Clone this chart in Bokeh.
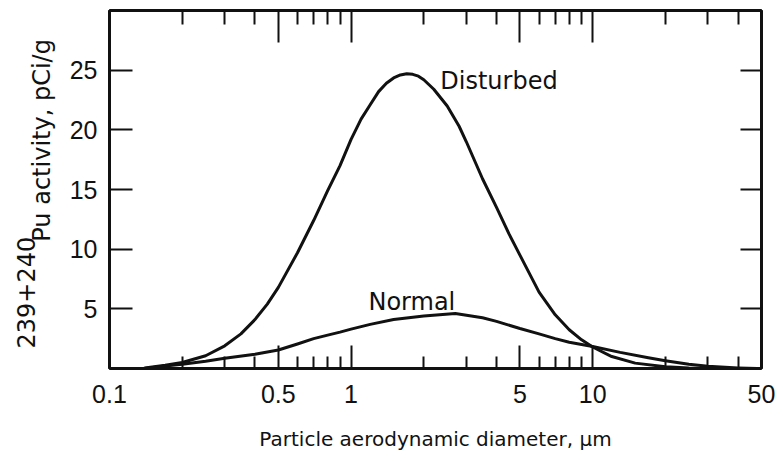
from bokeh.plotting import figure
from bokeh.models import (Range1d, LogAxis, LinearAxis, FixedTicker, LogScale,
                          CustomJSTickFormatter, Label, Title)
from bokeh.embed import file_html
from bokeh.resources import INLINE

# ---- data ----
diam_disturbed = [0.14, 0.17, 0.2, 0.25, 0.3, 0.35, 0.4, 0.45, 0.5, 0.6, 0.7, 0.8,
                  0.9, 1.0, 1.1, 1.2, 1.3, 1.4, 1.5, 1.6, 1.7, 1.8, 1.9, 2.0, 2.2,
                  2.5, 2.8, 3.0, 3.5, 4.0, 4.5, 5.0, 6.0, 7.0, 8.0, 9.0, 10, 12, 15,
                  20, 25, 30]
act_disturbed = [0.05, 0.27, 0.5, 1.07, 1.9, 2.9, 4.1, 5.4, 6.8, 9.7, 12.4, 14.9,
                 17.0, 19.2, 20.9, 22.1, 23.2, 23.9, 24.35, 24.6, 24.7, 24.65, 24.5,
                 24.2, 23.4, 22.0, 20.3, 19.0, 15.9, 13.5, 11.3, 9.5, 6.4, 4.5,
                 3.25, 2.4, 1.8, 1.0, 0.45, 0.14, 0.05, 0.02]

diam_normal = [0.14, 0.17, 0.2, 0.25, 0.3, 0.4, 0.5, 0.6, 0.7, 0.8, 0.9, 1.0, 1.2,
               1.5, 2.0, 2.7, 3.5, 4.0, 5.0, 6.0, 7.0, 8.0, 10, 13, 17, 20, 25, 30,
               40, 48]
act_normal = [0.0, 0.2, 0.35, 0.6, 0.85, 1.2, 1.55, 2.05, 2.5, 2.8, 3.05, 3.3, 3.7,
              4.1, 4.4, 4.6, 4.25, 3.95, 3.35, 2.9, 2.5, 2.2, 1.85, 1.35, 0.9,
              0.65, 0.35, 0.18, 0.05, 0.0]

x_major_ticks = [0.1, 0.5, 1, 5, 10, 50]
x_minor_ticks = [0.2, 0.3, 0.4, 0.6, 0.7, 0.8, 0.9, 2, 3, 4, 6, 7, 8, 9, 20, 30, 40]
y_ticks = [5, 10, 15, 20, 25]

x_title = "Particle aerodynamic diameter, \u03bcm"
y_title_sup = "239+240"
y_title_main = "Pu activity, pCi/g"
label_disturbed = "Disturbed"
label_normal = "Normal"

INK = "#111111"
TICK_FONT = "Liberation Sans"
TEXT_FONT = "DejaVu Sans"

# ---- figure ----
p = figure(width=775, height=461, x_axis_type=None, y_axis_type=None,
           x_range=Range1d(0.1, 50), y_range=Range1d(0, 30),
           output_backend="svg", toolbar_location=None,
           min_border_left=109, min_border_right=14,
           min_border_top=10, min_border_bottom=93)
p.x_scale = LogScale()
p.grid.visible = False
p.outline_line_color = INK
p.outline_line_width = 2.5

fmt = CustomJSTickFormatter(code="return tick.toString()")


def x_ticker():
    return FixedTicker(ticks=x_major_ticks, minor_ticks=x_minor_ticks)


def style_ticks(ax, major_in, minor_in):
    ax.axis_line_width = 3
    ax.axis_line_color = INK
    ax.major_tick_in = major_in
    ax.major_tick_out = 0
    ax.minor_tick_in = minor_in
    ax.minor_tick_out = 0
    ax.major_tick_line_width = 2
    ax.minor_tick_line_width = 2
    ax.major_tick_line_color = INK
    ax.minor_tick_line_color = INK


bottom = LogAxis(ticker=x_ticker(), formatter=fmt, axis_label=x_title)
style_ticks(bottom, 23, 12)
bottom.major_label_text_font = TICK_FONT
bottom.major_label_text_font_size = "25px"
bottom.major_label_text_color = INK
bottom.major_label_standoff = 16
bottom.axis_label_text_font = TEXT_FONT
bottom.axis_label_text_font_size = "20px"
bottom.axis_label_text_font_style = "normal"
bottom.axis_label_text_color = INK
bottom.axis_label_standoff = 21
p.add_layout(bottom, "below")

top = LogAxis(ticker=x_ticker(), formatter=fmt)
style_ticks(top, 32, 14)
top.major_label_text_color = None
top.major_label_standoff = 0
p.add_layout(top, "above")

left = LinearAxis(ticker=FixedTicker(ticks=y_ticks, minor_ticks=[]))
style_ticks(left, 23, 0)
left.major_label_text_font = TICK_FONT
left.major_label_text_font_size = "25px"
left.major_label_text_color = INK
left.major_label_standoff = 12
p.add_layout(left, "left")

right = LinearAxis(ticker=FixedTicker(ticks=y_ticks, minor_ticks=[]))
style_ticks(right, 21, 0)
right.major_label_text_color = None
right.major_label_standoff = 0
p.add_layout(right, "right")

# y title: raised "239+240" on the outer line, main text on the inner line,
# the main text starting where the raised prefix ends
NBSP = "\u00a0"
y_title = y_title_sup + "\n" + NBSP * 14 + y_title_main
p.add_layout(Title(text=y_title, align="left", offset=20,
                   vertical_align="top", standoff=16,
                   text_font=TEXT_FONT, text_font_size="24px",
                   text_line_height=0.57,
                   text_font_style="normal", text_color=INK), "left")

# ---- curves ----
p.line(diam_disturbed, act_disturbed, line_color=INK, line_width=3,
       line_join="round", line_cap="round")
p.line(diam_normal, act_normal, line_color=INK, line_width=3,
       line_join="round", line_cap="round")

# ---- curve labels ----
p.add_layout(Label(x=2.34, y=24.1, text=label_disturbed, text_font=TEXT_FONT,
                   text_font_size="24px", text_color=INK,
                   text_align="left", text_baseline="alphabetic"))
p.add_layout(Label(x=1.18, y=5.6, text=label_normal, text_font=TEXT_FONT,
                   text_font_size="24px", text_color=INK,
                   text_align="left", text_baseline="alphabetic"))

open("out.html", "w").write(file_html(p, INLINE))
